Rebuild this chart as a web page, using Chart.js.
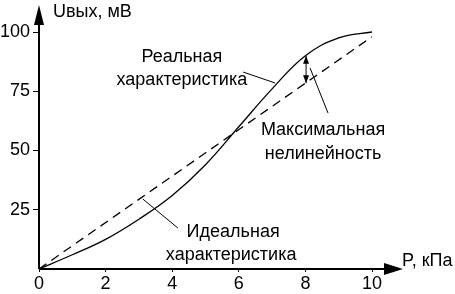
<!DOCTYPE html>
<html>
<head>
<meta charset="utf-8">
<script src="https://cdn.jsdelivr.net/npm/chart.js@4"></script>
<style>
  html, body { margin: 0; padding: 0; background: #fff; }
  #wrap { width: 455px; height: 294px; }
</style>
</head>
<body>
<div id="wrap"><canvas id="chart" width="455" height="294"></canvas></div>
<script>
// Pressure, kPa
var pressure = [0, 1, 2, 3, 4, 5, 6, 7, 8, 9, 10];
// Real characteristic, mV
var realOut = [0, 6, 12.5, 21, 31, 44, 60, 76, 90, 97.5, 100];
// Ideal characteristic (straight line), endpoints
var idealP = [0, 10];
var idealOut = [0, 98];

var xTicks = [0, 2, 4, 6, 8, 10];
var yTicks = [25, 50, 75, 100];

var FONT = '"Liberation Sans", Arial, sans-serif';

function toXY(xs, ys) {
    var pts = [];
    for (var i = 0; i < xs.length; i++) pts.push({ x: xs[i], y: ys[i] });
    return pts;
}

// axes with arrows + annotations
var decorPlugin = {
    id: 'decor',
    afterDraw: function (chart) {
        var ctx = chart.ctx;
        var xs = chart.scales.x, ys = chart.scales.y;
        var X = function (v) { return xs.getPixelForValue(v); };
        var Y = function (v) { return ys.getPixelForValue(v); };
        var ox = X(0), oy = Y(0);

        ctx.save();
        ctx.strokeStyle = '#000';
        ctx.fillStyle = '#000';

        // axis lines
        ctx.lineWidth = 2;
        ctx.beginPath();
        ctx.moveTo(ox, oy);
        ctx.lineTo(ox, 20);
        ctx.moveTo(ox, oy);
        ctx.lineTo(390, oy);
        ctx.stroke();
        // arrow heads
        ctx.beginPath();
        ctx.moveTo(ox, 5);
        ctx.lineTo(ox - 5, 25);
        ctx.lineTo(ox + 5, 25);
        ctx.closePath();
        ctx.fill();
        ctx.beginPath();
        ctx.moveTo(403, oy);
        ctx.lineTo(384, oy - 6);
        ctx.lineTo(384, oy + 6);
        ctx.closePath();
        ctx.fill();

        // axis titles
        ctx.font = '18px ' + FONT;
        ctx.textBaseline = 'middle';
        ctx.textAlign = 'left';
        ctx.fillText('Uвых, мВ', X(0.42), Y(108.4));
        ctx.fillText('P, кПа', X(10.9), Y(3.4));

        // labels
        ctx.textAlign = 'center';
        ctx.fillText('Реальная', X(4.29), Y(89.5));
        ctx.fillText('характеристика', X(4.29), Y(79.7));
        ctx.fillText('Максимальная', X(8.53), Y(58.6));
        ctx.fillText('нелинейность', X(8.53), Y(48.5));
        ctx.fillText('Идеальная', X(5.83), Y(15.6));
        ctx.fillText('характеристика', X(5.77), Y(5.9));

        // leader lines
        ctx.lineWidth = 1;
        ctx.beginPath();
        ctx.moveTo(X(6.13), Y(83.1)); ctx.lineTo(X(7.09), Y(78.5));
        ctx.moveTo(X(8.14), Y(84.8)); ctx.lineTo(X(8.68), Y(65.8));
        ctx.moveTo(X(3.12), Y(29.5)); ctx.lineTo(X(4.17), Y(17.3));
        ctx.stroke();

        // max nonlinearity double arrow at P = 8
        var i8 = pressure.indexOf(8);
        var px = X(8.02);
        var yTop = Y(realOut[i8]);
        var yBot = Y(idealOut[1] * 8 / idealP[1]);
        ctx.beginPath();
        ctx.moveTo(px, yTop); ctx.lineTo(px, yBot);
        ctx.stroke();
        ctx.beginPath();
        ctx.moveTo(px, yTop); ctx.lineTo(px - 3, yTop + 8); ctx.lineTo(px + 3, yTop + 8); ctx.closePath();
        ctx.moveTo(px, yBot); ctx.lineTo(px - 3, yBot - 8); ctx.lineTo(px + 3, yBot - 8); ctx.closePath();
        ctx.fill();

        ctx.restore();
    }
};

var ctx = document.getElementById('chart').getContext('2d');
var chart = new Chart(ctx, {
    type: 'scatter',
    data: {
        datasets: [
            {
                label: 'Реальная характеристика',
                data: toXY(pressure, realOut),
                showLine: true,
                borderColor: '#000',
                borderWidth: 1.3,
                pointRadius: 0,
                tension: 0.4
            },
            {
                label: 'Идеальная характеристика',
                data: toXY(idealP, idealOut),
                showLine: true,
                borderColor: '#000',
                borderWidth: 1.3,
                borderDash: [9, 6],
                pointRadius: 0
            }
        ]
    },
    options: {
        responsive: false,
        animation: false,
        clip: false,
        layout: { padding: { top: 32, right: 83, left: 0, bottom: 0 } },
        plugins: {
            legend: { display: false },
            tooltip: { enabled: false }
        },
        scales: {
            x: {
                type: 'linear',
                min: 0,
                max: 10,
                afterFit: function (s) { s.height = 25; },
                afterBuildTicks: function (s) {
                    s.ticks = xTicks.map(function (v) { return { value: v }; });
                },
                border: { display: false },
                grid: { drawOnChartArea: false, drawTicks: true, tickLength: 3, color: '#000' },
                ticks: {
                    color: '#000',
                    padding: 1,
                    font: { family: FONT, size: 18 }
                }
            },
            y: {
                type: 'linear',
                min: 0,
                max: 100,
                afterFit: function (s) { s.width = 39; },
                afterBuildTicks: function (s) {
                    s.ticks = yTicks.map(function (v) { return { value: v }; });
                },
                border: { display: false },
                grid: { drawOnChartArea: false, drawTicks: true, tickLength: 6, color: '#000' },
                ticks: {
                    color: '#000',
                    padding: 3,
                    font: { family: FONT, size: 18 }
                }
            }
        }
    },
    plugins: [decorPlugin]
});
</script>
</body>
</html>
